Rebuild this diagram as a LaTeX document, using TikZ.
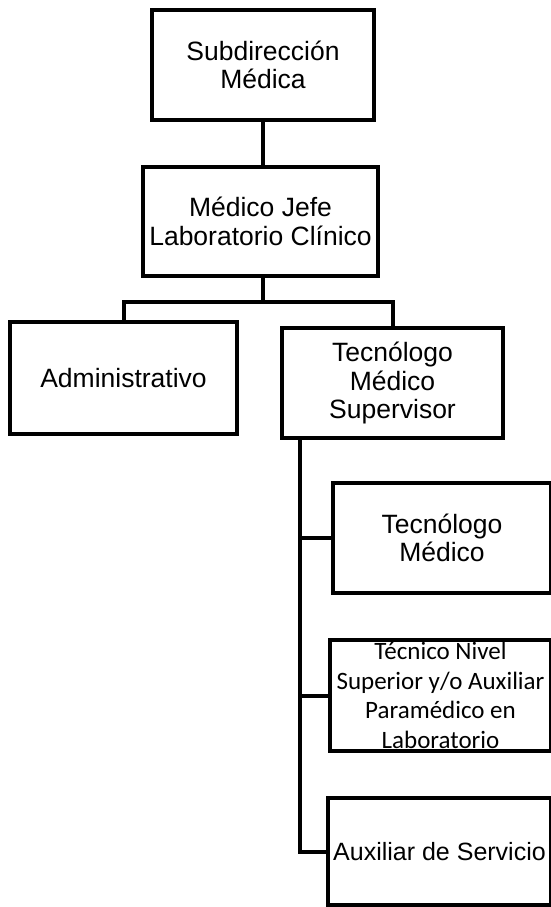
\documentclass[tikz,border=0pt]{standalone}
\usepackage{fontspec}
\setmainfont{Liberation Sans}
\newfontfamily\calibri{Carlito}
\begin{document}
\begin{tikzpicture}[x=1pt,y=-1pt,
  box/.style={draw=black, line width=4.5pt, fill=white, align=center, inner sep=0pt,
    font=\fontsize{26.5}{28.5}\selectfont},
  link/.style={draw=black, line width=4pt}]
\useasboundingbox[fill=white] (0,0) rectangle (550,907);
\node[box, minimum width=222pt, minimum height=110pt] (A) at (263,65) {Subdirección\\Médica};
\node[box, minimum width=235pt, minimum height=109pt] (B) at (260.5,221.5) {Médico Jefe\\Laboratorio Clínico};
\node[box, minimum width=227pt, minimum height=112pt] (C) at (123.5,378) {Administrativo};
\node[box, minimum width=221pt, minimum height=110pt] (D) at (392.5,383) {Tecnólogo\\Médico\\Supervisor};
\node[box, minimum width=218pt, minimum height=110pt] (E) at (442,538) {Tecnólogo\\Médico};
\node[box, minimum width=221pt, minimum height=111pt, font=\calibri\fontsize{25}{29.5}\selectfont] (F) at (440.5,695.5) {Técnico Nivel\\Superior y/o Auxiliar\\Paramédico en\\Laboratorio};
\node[box, minimum width=223pt, minimum height=107pt, font=\fontsize{25}{28.5}\selectfont] (G) at (439.5,851.5) {Auxiliar de Servicio};
\draw[link] (A.south) -- (A.south |- B.north);
\draw[link] (A.south |- B.south) -- ++(0,24) coordinate (j);
\draw[link] (C.north) |- (j) -| (D.north);
\coordinate (t) at ([xshift=20pt]D.south west);
\draw[link] (t) |- (G.west);
\draw[link] (E.west) -- (E.west -| t);
\draw[link] (F.west) -- (F.west -| t);
\end{tikzpicture}
\end{document}
